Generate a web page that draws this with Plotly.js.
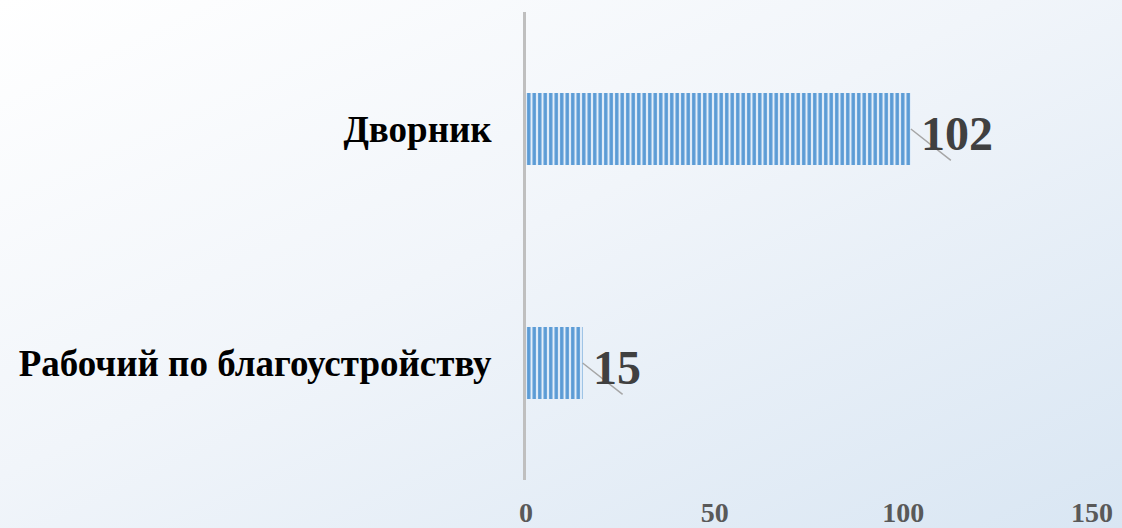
<!DOCTYPE html>
<html>
<head>
<meta charset="utf-8">
<script src="https://cdn.plot.ly/plotly-3.0.1.min.js"></script>
<style>
  html, body { margin: 0; padding: 0; }
  #chart {
    width: 1122px; height: 528px;
    background: linear-gradient(to bottom right, #ffffff 0%, #f1f5fa 45%, #d9e6f3 100%);
  }
</style>
</head>
<body>
<div id="chart"></div>
<script>
const categories = ['Дворник', 'Рабочий по благоустройству'];
const values = [102, 15];
const tickValues = [0, 50, 100, 150];
const tickLabels = ['0', '50', '100', '150'];

const serif = '"Liberation Serif", "Times New Roman", serif';

const trace = {
  type: 'bar',
  orientation: 'h',
  y: categories,
  x: values,
  marker: {
    color: '#5b9bd5',
    line: { width: 0 },
    pattern: {
      shape: '|',
      size: 5.5,
      solidity: 0.62,
      fgcolor: '#5b9bd5',
      bgcolor: '#e4eef9',
      fillmode: 'replace'
    }
  },
  hoverinfo: 'none'
};

const annotations = [];
categories.forEach((c, i) => {
  annotations.push({
    x: values[i], y: c, xref: 'x', yref: 'y',
    text: '.', font: { size: 5, color: 'rgba(0,0,0,0)' },
    showarrow: true, arrowhead: 0, arrowwidth: 1.5,
    arrowcolor: '#a6a6a6', ax: 42, ay: 33, standoff: 0, startstandoff: 0
  });
  annotations.push({
    x: values[i], y: c, xref: 'x', yref: 'y',
    text: String(values[i]), showarrow: false,
    xanchor: 'left', yanchor: 'middle', xshift: 8, yshift: -4,
    font: { family: serif, size: 48, color: '#404040', weight: 'bold' }
  });
});

const layout = {
  width: 1122, height: 528,
  margin: { l: 526, r: 30, t: 12, b: 48 },
  paper_bgcolor: 'rgba(0,0,0,0)',
  plot_bgcolor: 'rgba(0,0,0,0)',
  showlegend: false,
  bargap: 0.692,
  xaxis: {
    range: [0, 150],
    tickvals: tickValues,
    ticktext: tickLabels,
    showgrid: false, zeroline: false, showline: false,
    ticks: '',
    ticklabelstandoff: 13,
    tickfont: { family: serif, size: 28, color: '#595959', weight: 'bold' },
    fixedrange: true
  },
  yaxis: {
    type: 'category',
    autorange: 'reversed',
    showgrid: false, zeroline: false,
    showline: true, linecolor: '#bfbfbf', linewidth: 3,
    ticks: '',
    ticklabelstandoff: 24,
    tickfont: { family: serif, size: 37, color: '#000000', weight: 'bold' },
    fixedrange: true
  },
  annotations: annotations
};

Plotly.newPlot('chart', [trace], layout, { displayModeBar: false, staticPlot: true });
</script>
</body>
</html>
